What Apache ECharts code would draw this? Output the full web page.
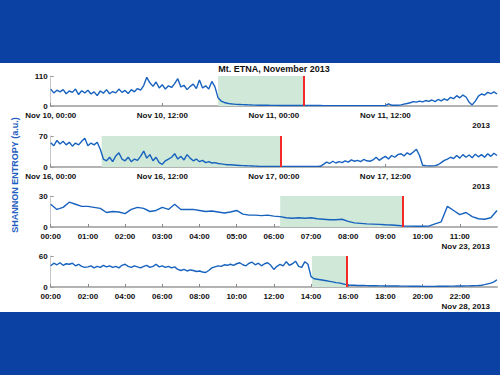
<!DOCTYPE html>
<html>
<head>
<meta charset="utf-8">
<script src="https://cdn.jsdelivr.net/npm/echarts@6/dist/echarts.min.js"></script>
<style>
html,body{margin:0;padding:0;background:#0a41a3;}
#c{width:500px;height:375px;}
</style>
</head>
<body>
<div id="c"></div>
<script>
// ---------- DATA ----------
const chartTitle = 'Mt. ETNA, November 2013';
const yAxisName = 'SHANNON ENTROPY (a.u.)';

// Panel 1: Nov 10-11, 20-min steps (hours)
const p1Step = 1/3;
const p1Values = [62,48,58,52,60,45,55,50,62,42,56,48,58,44,52,38,55,47,60,45,53,48,62,50,57,46,60,52,64,58,
75,105,85,72,88,66,78,62,74,68,82,100,70,76,60,72,80,64,95,66,74,62,90,70,
30,18,13,10,8,7,6,5.5,5,4.5,4,3.5,3.2,3,2.8,2.6,2.5,2.4,2.3,
2.2,2.1,2,2,1.9,1.9,1.8,1.8,1.8,1.7,1.7,1.7,1.6,1.6,1.6,1.5,1.5,1.5,1.5,1.4,1.4,1.4,1.4,1.4,1.3,1.3,1.3,1.3,1.3,1.3,1.3,1.3,1.3,1.3,1.4,1.5,
8,3,2.5,3,4,7,9,12,16,14,18,15,20,17,22,16,24,19,26,21,32,27,38,30,40,33,14,4,18,36,44,40,50,45,52,44];
const p1XLabels = ['Nov 10, 00:00','Nov 10, 12:00','Nov 11, 00:00','Nov 11, 12:00'];
const p1Shade = [18.0, 27.25];
const p1Red = 27.25;

// Panel 2: Nov 16-17, 20-min steps
const p2Step = 1/3;
const p2Values = [55,48,60,52,58,50,56,47,54,50,58,65,48,54,50,56,40,18,14,22,12,25,32,18,14,22,12,18,15,24,
36,20,28,14,22,10,6,14,18,22,30,18,24,16,28,20,14,18,12,15,10,12,9,10,8,7,6,5,5,4.5,4,3.5,3,2.8,2.5,2.3,2,
1.6,1.5,1.5,1.4,1.4,1.4,1.3,1.3,1.3,1.3,1.3,1.3,1.3,1.3,1.3,1.3,1.4,1.4,1.4,1.5,1.6,
6,11,8,13,9,12,10,14,11,16,13,15,12,17,14,13,16,22,15,20,24,18,26,22,28,30,25,32,28,34,40,26,
4,3,2.5,2.5,3,5,10,15,18,22,19,26,20,28,22,27,21,29,23,28,22,30,24,31,26];
const p2XLabels = ['Nov 16, 00:00','Nov 16, 12:00','Nov 17, 00:00','Nov 17, 12:00'];
const p2Shade = [5.48, 24.7];
const p2Red = 24.7;

// Panel 3: Nov 23, 10-min steps
const p3Step = 1/6;
const p3Values = [22,17,19,24,22,20,20,19,18,14,15,14.5,13,17,19,18,15,16,19,17,22,17,17,17,
16,15,15.5,14.5,13.5,14.5,16,12.5,11.5,11.5,11,11.5,10.5,10,9,8.5,9,8.5,9,8,7.5,7,7,7.5,
5.5,4,3.5,3,2.8,2.5,2.2,2,1.5,1,0.8,0.7,0.7,0.8,3,5,20,16,12,14,10,8,7.5,9,16];
const p3XLabels = ['00:00','01:00','02:00','03:00','04:00','05:00','06:00','07:00','08:00','09:00','10:00','11:00'];
const p3Shade = [6.17, 9.47];
const p3Red = 9.47;

// Panel 4: Nov 28, 10-min steps
const p4Step = 1/6;
const p4Values = [41,46,43,47,42,45,44,46,41,44,40,38,39,41,37,40,38,42,39,41,38,40,37,42,
44,40,38,41,39,37,40,42,38,40,44,39,41,38,40,37,39,34,32,34,31,33,32,30,31,29,28,32,37,39,
41,40,43,42,44,42,45,47,43,41,46,48,43,46,41,45,47,42,34,40,44,41,49,42,45,50,40,38,49,44,
20,16,15,14,13,12,11,10,8.5,8,6.5,5,4,3.5,3.5,3,
3,2.8,2.6,2.5,2.4,2.3,2.2,2.1,2,2,1.9,1.8,1.8,1.7,1.6,1.6,1.5,1.5,1.4,1.4,1.3,1.3,1.3,1.3,1.3,1.4,1.4,1.5,1.5,1.6,1.7,1.8,1.9,2,2.1,2.2,2.4,2.6,
3,3.5,4.5,6,7.5,10,14];
const p4XLabels = ['00:00','02:00','04:00','06:00','08:00','10:00','12:00','14:00','16:00','18:00','20:00','22:00'];
const p4Shade = [14.05, 15.9];
const p4Red = 15.9;

const yMaxes = [110, 70, 30, 60];
const xMaxes = [48, 48, 12, 24];
const xIntervals = [12, 12, 1, 2];
const dateLabels = ['2013', '2013', 'Nov 23, 2013', 'Nov 28, 2013'];

// ---------- BUILD ----------
const panels = [
  {values:p1Values, step:p1Step, labels:p1XLabels, shade:p1Shade, red:p1Red},
  {values:p2Values, step:p2Step, labels:p2XLabels, shade:p2Shade, red:p2Red},
  {values:p3Values, step:p3Step, labels:p3XLabels, shade:p3Shade, red:p3Red},
  {values:p4Values, step:p4Step, labels:p4XLabels, shade:p4Shade, red:p4Red}
];
const gridTops = [76, 136, 196, 256];
const gridHeights = [30, 31, 31, 31];
const FONT = '"Liberation Sans", Arial, sans-serif';
const lineColor = '#1662be';

const grid = [], xAxis = [], yAxis = [], series = [], graphic = [];
panels.forEach((p, k) => {
  grid.push({left: 50.7, right: 3, top: gridTops[k], height: gridHeights[k]});
  xAxis.push({
    type: 'value', gridIndex: k, min: 0, max: xMaxes[k], interval: xIntervals[k],
    axisLine: {show: true, lineStyle: {color: '#b3b3b3', width: 2}},
    axisTick: {show: true, inside: true, length: 3, lineStyle: {color: '#888', width: 1}},
    splitLine: {show: false},
    axisLabel: {
      showMaxLabel: false, margin: 5, fontSize: 8, fontWeight: 'bold', color: '#111', fontFamily: FONT,
      formatter: v => p.labels[Math.round(v / xIntervals[k])] || ''
    }
  });
  yAxis.push({
    type: 'value', gridIndex: k, min: 0, max: yMaxes[k], interval: yMaxes[k],
    axisLine: {show: true, lineStyle: {color: '#c8c8c8', width: 1}},
    axisTick: {show: true, inside: true, length: 3, lineStyle: {color: '#999'}},
    splitLine: {show: false},
    axisLabel: {margin: 3, fontSize: 8, fontWeight: 'bold', color: '#111', fontFamily: FONT}
  });
  series.push({
    type: 'line', xAxisIndex: k, yAxisIndex: k,
    data: p.values.map((v, i) => [i * p.step, v]),
    showSymbol: false, symbol: 'none',
    lineStyle: {color: lineColor, width: 1.4},
    z: 3,
    markArea: {
      silent: true,
      itemStyle: {color: '#cfe8d7', opacity: 1},
      data: [[{xAxis: p.shade[0]}, {xAxis: p.shade[1]}]]
    },
    markLine: {
      silent: true, symbol: 'none', label: {show: false},
      lineStyle: {color: '#f42a2a', width: 2, type: 'solid'},
      data: [{xAxis: p.red}]
    }
  });
  graphic.push({
    type: 'text', x: 490, y: gridTops[k] + gridHeights[k] + 19,
    style: {text: dateLabels[k], textAlign: 'right', textVerticalAlign: 'middle',
      fontSize: 8, fontWeight: 'bold', fontFamily: FONT, fill: '#111'}
  });
});

graphic.unshift({
  type: 'rect', shape: {x: 0, y: 63, width: 500, height: 249}, style: {fill: '#ffffff'}, z: -10
});
graphic.push({
  type: 'text', x: 274, y: 69,
  style: {text: chartTitle, textAlign: 'center', textVerticalAlign: 'middle',
    fontSize: 9, fontWeight: 'bold', fontFamily: FONT, fill: '#111'}
});
graphic.push({
  type: 'text', x: 15, y: 175, rotation: Math.PI / 2,
  style: {text: yAxisName, textAlign: 'center', textVerticalAlign: 'middle',
    fontSize: 9, fontWeight: 'bold', fontFamily: FONT, fill: '#1f60c0'}
});

const chart = echarts.init(document.getElementById('c'), null, {renderer: 'svg'});
chart.setOption({
  animation: false,
  backgroundColor: '#0a41a3',
  grid, xAxis, yAxis, series, graphic
});
</script>
</body>
</html>
